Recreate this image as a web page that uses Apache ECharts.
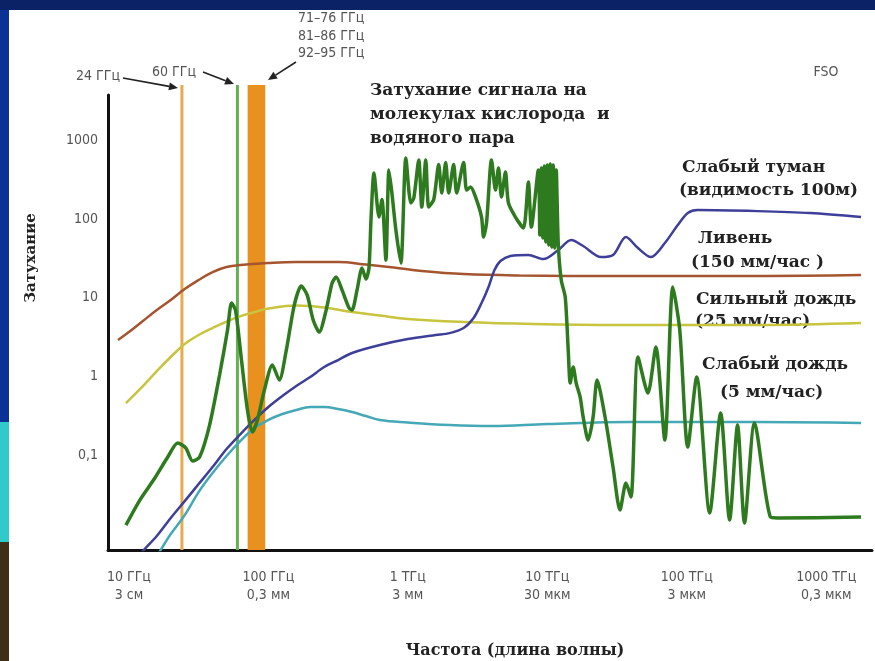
<!DOCTYPE html>
<html>
<head>
<meta charset="utf-8">
<script src="https://cdn.jsdelivr.net/npm/echarts/dist/echarts.min.js"></script>
<style>
  html, body { margin: 0; padding: 0; background: #ffffff; }
  #chart { width: 875px; height: 661px; }
</style>
</head>
<body>
<div id="chart"></div>
<script>
// Frequency axis tick labels (10 GHz ... 1000 THz, one per decade)
const xTickLabels = ['10 ГГц\n3 см', '100 ГГц\n0,3 мм', '1 ТГц\n3 мм', '10 ТГц\n30 мкм', '100 ТГц\n3 мкм', '1000 ТГц\n0,3 мкм'];
// Attenuation axis tick labels for decades 10^-2 ... 10^3
const yTickLabels = ['', '0,1', '1', '10', '100', '1000'];

// Allocated bands, GHz (single lines have from == to)
const markerFrom = [24, 60, 71];
const markerTo = [24, 60, 95];

// Heavy rain shower, 150 mm/h
const showerFreq = [8.35, 10, 12.59, 15.85, 19.95, 25.12, 31.62, 39.81, 50.12, 63.1, 100, 158.5, 316.2, 501.2, 794, 1259, 2512, 6310, 31620, 316200, 1778000];
const showerVal = [2.91, 3.67, 5.07, 6.98, 9.36, 12.9, 16.8, 21.2, 24.6, 26.1, 27.6, 28.4, 28.4, 26.4, 24.2, 21.9, 20.0, 19.2, 18.9, 18.9, 19.4];

// Heavy rain, 25 mm/h
const heavyRainFreq = [9.52, 12.59, 15.85, 19.95, 25.12, 31.62, 39.81, 50.12, 63.1, 79.43, 100, 158.5, 251.2, 398.1, 631, 1000, 2512, 7943, 31620, 316200, 1778000];
const heavyRainVal = [0.461, 0.758, 1.17, 1.77, 2.59, 3.37, 4.13, 4.99, 5.86, 6.59, 7.30, 7.97, 7.52, 6.59, 5.95, 5.37, 4.92, 4.64, 4.51, 4.51, 4.78];

// Light rain, 5 mm/h
const lightRainFreq = [15.85, 17.78, 19.95, 25.12, 31.62, 39.81, 50.12, 63.1, 79.43, 100, 125.9, 158.5, 199.5, 251.2, 316.2, 398.1, 501.2, 631, 1000, 1995, 3981, 10000, 39810, 316200, 1778000];
const lightRainVal = [0.00526, 0.00725, 0.0100, 0.0174, 0.0341, 0.0595, 0.0978, 0.152, 0.222, 0.281, 0.334, 0.376, 0.410, 0.410, 0.387, 0.354, 0.315, 0.281, 0.261, 0.242, 0.235, 0.249, 0.264, 0.264, 0.257];

// Light fog, visibility 100 m
const fogFreq = [11.22, 12.59, 15.85, 19.95, 25.12, 31.62, 39.81, 50.12, 63.1, 79.43,
  100, 125.9, 158.5, 199.5, 251.2, 316.2, 398.1, 631, 1000, 1585,
  1995, 2512, 2961, 3378, 3790, 4182, 4616, 5442, 7316, 9363,
  11980, 14840, 18080, 24300, 29610, 36670, 44670, 55340, 69660, 86250,
  101700, 119800, 321400, 768800, 1778000];
const fogVal = [0.00468, 0.00608, 0.00944, 0.0160, 0.0262, 0.0431, 0.0709, 0.120, 0.186, 0.281,
  0.410, 0.565, 0.758, 0.985, 1.32, 1.62, 1.99, 2.51, 2.99, 3.37,
  3.56, 4.13, 5.53, 8.57, 13.7, 22.5, 29.3, 33.9, 34.9, 31.0,
  40.4, 54.1, 45.4, 32.9, 34.9, 59.0, 42.8, 32.9, 49.6, 83.9,
  119, 130, 126, 119, 106];

// Molecular absorption (oxygen and water vapour)
const gasFreq = [9.52, 11.98, 15.34, 18.99, 22.39, 25.54, 28.66, 32.15, 37.89, 44.67,
  50.95, 54.41, 58.12, 64.15, 70.79, 76.87, 83.46, 93.64, 106.8, 119.8,
  134.5, 153.4, 172.1, 189.9, 209.6, 231.4, 259.6, 286.5, 306.0, 337.8,
  379.0, 398.1, 432.2, 469.4, 501.2, 526.5, 544.1, 571.6, 620.9, 652.3,
  696.6, 731.8, 768.8, 820.9, 891.3, 967.6, 1051, 1104, 1198, 1259,
  1345, 1413, 1534, 1665, 1750, 1868, 1963, 2131, 2239, 2512,
  2639, 2818, 3060, 3378, 3491, 3667, 3981, 4252, 4467, 4694,
  5012, 5265, 5908, 6739, 7316, 7688,
  8626, 8842, 9064, 9288, 9519, 9756, 10000, 10250, 10500, 10770, 11040, 11310, 11600, 11980,
  12590, 13450, 14130, 14600, 15340, 16110, 17210,
  18080, 19630, 21310, 22760, 25960, 29610, 33220, 36670, 39810, 44670,
  52660, 60050, 69660, 79430, 89130, 101700, 117900, 146000, 175000, 202900,
  231400, 259600, 306000, 398100, 446700, 1778000];
const gasVal = [0.0130, 0.0270, 0.0514, 0.0951, 0.143, 0.124, 0.0845, 0.0951, 0.242, 1.045,
  3.89, 8.57, 6.98, 1.62, 0.376, 0.197, 0.281, 0.674, 1.40, 0.903,
  2.17, 8.09, 14.1, 10.8, 5.22, 3.67, 6.98, 15.4, 18.3, 12.5,
  7.41, 6.98, 12.5, 23.9, 17.3, 23.9, 97.1, 384, 106, 177,
  30.1, 419, 214, 72.5, 27.6, 596, 160, 185, 561, 142,
  561, 142, 177, 492, 214, 522, 214, 492, 214, 522,
  233, 255, 190, 106, 59.0, 88.9, 561, 233, 445, 190,
  395, 160, 106, 76.9, 295, 79.1,
  419, 62.6, 445, 57.4, 471, 51.1, 485, 46.8, 499, 44.1, 485, 42.8, 419, 49.6,
  16.8, 10.2, 2.17, 0.827, 1.32, 0.827, 0.549,
  0.306, 0.156, 0.306, 0.903, 0.306, 0.0709, 0.0202, 0.0444, 0.0295, 1.77,
  0.617, 2.37, 0.156, 13.7, 3.89, 0.127, 0.985, 0.0185, 0.344, 0.0151,
  0.242, 0.0138, 0.257, 0.0164, 0.0160, 0.0164];

const NARROW = '"Liberation Sans Narrow", "DejaVu Sans Condensed", "Arial Narrow", sans-serif';
const SERIF = '"DejaVu Serif", "Liberation Serif", serif';

const zip = (xs, ys) => xs.map((x, i) => [x, ys[i]]);

// decade label lookup: only exact powers of ten get a label
function decadeLabel(value, labels, firstExp) {
  const lg = Math.log10(value);
  const e = Math.round(lg);
  if (Math.abs(lg - e) > 0.01) return '';
  const s = labels[e - firstExp];
  return s === undefined ? '' : s;
}

const markerColors = ['#e9a94e', '#66b054', '#e8911f'];
const markerLineWidth = [3, 3, 0];

function renderMarker(params, api) {
  const cs = params.coordSys;
  const i = params.dataIndex;
  const xa = api.coord([api.value(0), 1])[0];
  const xb = api.coord([api.value(1), 1])[0];
  const w = Math.max(xb - xa, markerLineWidth[i]);
  const cx = (xa + xb) / 2;
  return {
    type: 'rect',
    shape: { x: cx - w / 2, y: cs.y - 10, width: w, height: cs.height + 10 },
    style: { fill: markerColors[i] }
  };
}

function curve(name, xs, ys, color, width, smooth) {
  return {
    name: name,
    type: 'line',
    data: zip(xs, ys),
    showSymbol: false,
    smooth: smooth,
    clip: true,
    lineStyle: { color: color, width: width },
    z: 3
  };
}

function arrow(x1, y1, x2, y2) {
  const a = Math.atan2(y2 - y1, x2 - x1);
  const L = 9, H = 4;
  const bx = x2 - L * Math.cos(a), by = y2 - L * Math.sin(a);
  const px = -Math.sin(a) * H, py = Math.cos(a) * H;
  return [
    { type: 'line', silent: true, shape: { x1: x1, y1: y1, x2: bx, y2: by }, style: { stroke: '#222', lineWidth: 1.6 } },
    { type: 'polygon', silent: true, shape: { points: [[x2, y2], [bx + px, by + py], [bx - px, by - py]] }, style: { fill: '#222' } }
  ];
}

function label(text, x, y, font, fill, align) {
  return {
    type: 'text', silent: true, x: x, y: y,
    style: { text: text, font: font, fill: fill, textAlign: align || 'left', textVerticalAlign: 'middle' }
  };
}

const boldSerif = 'bold 17px ' + SERIF;
const narrowFont = '14px ' + NARROW;

const graphics = [
  // slide frame strips
  { type: 'rect', silent: true, shape: { x: 0, y: 0, width: 875, height: 10 }, style: { fill: '#0b2266' } },
  { type: 'rect', silent: true, shape: { x: 0, y: 10, width: 9, height: 412 }, style: { fill: '#0b3196' } },
  { type: 'rect', silent: true, shape: { x: 0, y: 422, width: 9, height: 120 }, style: { fill: '#31c9c9' } },
  { type: 'rect', silent: true, shape: { x: 0, y: 542, width: 9, height: 119 }, style: { fill: '#3e3018' } },

  // band labels
  label('24 ГГц', 98, 76, narrowFont, '#555', 'center'),
  label('60 ГГц', 174, 72, narrowFont, '#555', 'center'),
  label('71–76 ГГц', 298, 18, narrowFont, '#555'),
  label('81–86 ГГц', 298, 36, narrowFont, '#555'),
  label('92–95 ГГц', 298, 53, narrowFont, '#555'),
  ...arrow(123, 78, 178, 88),
  ...arrow(203, 72, 234, 84),
  ...arrow(296, 62, 268, 80),

  label('FSO', 826, 72, narrowFont, '#555', 'center'),

  label('Затухание сигнала на', 370, 91, boldSerif, '#222'),
  label('молекулах кислорода  и', 370, 115, boldSerif, '#222'),
  label('водяного пара', 370, 139, boldSerif, '#222'),

  label('Слабый туман', 682, 168, boldSerif, '#222'),
  label('(видимость 100м)', 679, 191, boldSerif, '#222'),
  label('Ливень', 698, 239, boldSerif, '#222'),
  label('(150 мм/час )', 691, 263, boldSerif, '#222'),
  label('Сильный дождь', 696, 300, boldSerif, '#222'),
  label('(25 мм/час)', 695, 322, boldSerif, '#222'),
  label('Слабый дождь', 702, 365, boldSerif, '#222'),
  label('(5 мм/час)', 720, 393, boldSerif, '#222'),

  // axis titles
  label('Частота (длина волны)', 515, 651, 'bold 16px ' + SERIF, '#222', 'center'),
  {
    type: 'text', silent: true, x: 31, y: 258, rotation: Math.PI / 2,
    style: { text: 'Затухание', font: 'bold 15px ' + SERIF, fill: '#222', textAlign: 'center', textVerticalAlign: 'middle' }
  }
];

const chart = echarts.init(document.getElementById('chart'), null, { renderer: 'canvas' });
chart.setOption({
  animation: false,
  backgroundColor: '#ffffff',
  grid: { left: 108, right: 0, top: 95, bottom: 111, containLabel: false },
  xAxis: {
    type: 'log', logBase: 10, min: 7.08, max: 2.13e6,
    axisLine: { show: true, lineStyle: { color: '#111', width: 3 } },
    axisTick: { show: false },
    splitLine: { show: false },
    axisLabel: {
      margin: 18, lineHeight: 18, fontSize: 14, color: '#555', fontFamily: NARROW,
      formatter: v => decadeLabel(v, xTickLabels, 1)
    }
  },
  yAxis: {
    type: 'log', logBase: 10, min: 0.00627, max: 3758,
    axisLine: { show: true, lineStyle: { color: '#111', width: 3 } },
    axisTick: { show: false },
    splitLine: { show: false },
    axisLabel: {
      margin: 10, fontSize: 14, color: '#555', fontFamily: NARROW,
      formatter: v => decadeLabel(v, yTickLabels, -2)
    }
  },
  graphic: graphics,
  series: [
    {
      type: 'custom',
      data: markerFrom.map((f, i) => [f, markerTo[i]]),
      encode: { x: [0, 1] },
      renderItem: renderMarker,
      silent: true,
      z: 1
    },
    curve('Ливень', showerFreq, showerVal, '#a4552f', 2.5, 0.4),
    curve('Сильный дождь', heavyRainFreq, heavyRainVal, '#c8c43e', 2.5, 0.4),
    curve('Слабый дождь', lightRainFreq, lightRainVal, '#45a8b6', 2.5, 0.4),
    curve('Слабый туман', fogFreq, fogVal, '#3d3f98', 2.5, 0.3),
    curve('Кислород и водяной пар', gasFreq, gasVal, '#2e7b1f', 3.5, 0.25)
  ]
});
</script>
</body>
</html>
